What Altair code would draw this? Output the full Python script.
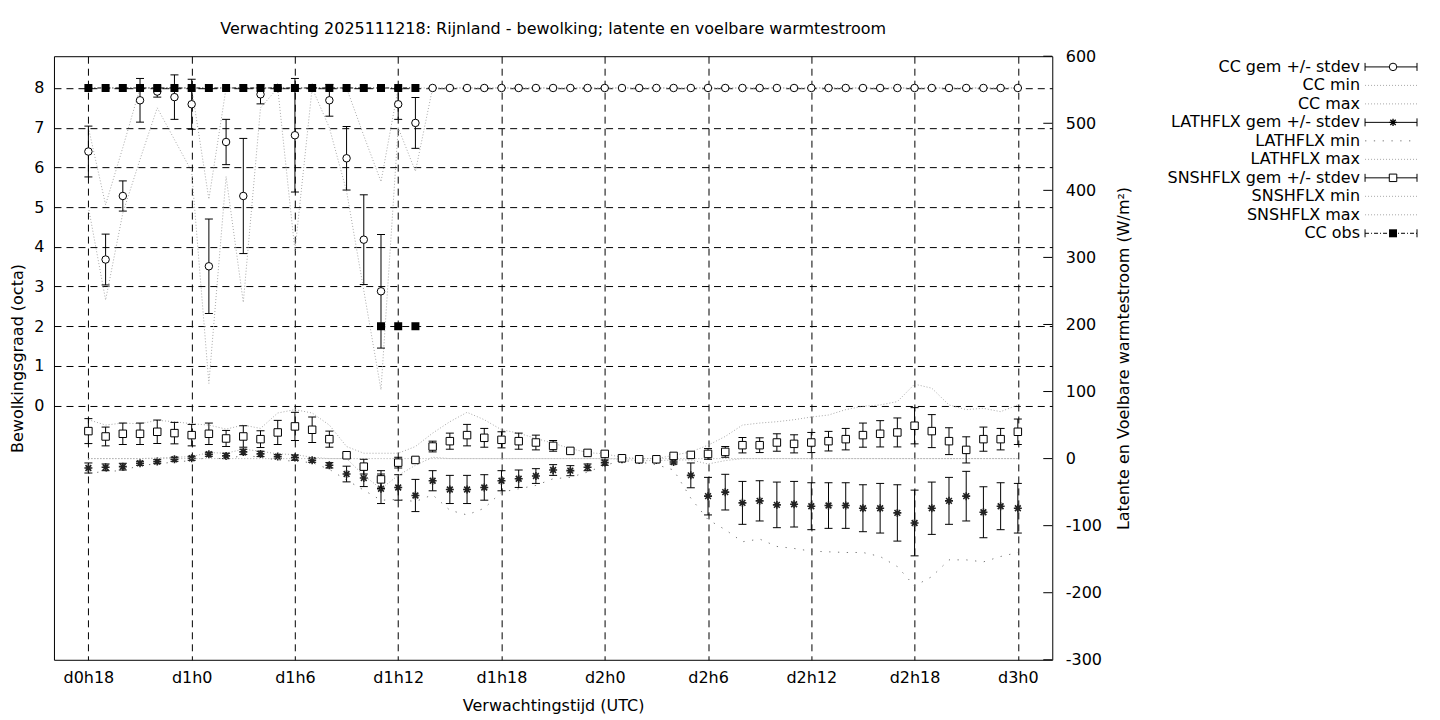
import altair as alt
import pandas as pd

# ---------------- data ----------------
hours = [18, 19, 20, 21, 22, 23, 24, 25, 26, 27,
         28, 29, 30, 31, 32, 33, 34, 35, 36, 37,
         38, 39, 40, 41, 42, 43, 44, 45, 46, 47,
         48, 49, 50, 51, 52, 53, 54, 55, 56, 57,
         58, 59, 60, 61, 62, 63, 64, 65, 66, 67,
         68, 69, 70, 71, 72]

cc_mean = [6.40, 3.68, 5.28, 7.69, 7.91, 7.77, 7.59, 3.51, 6.64, 5.28,
           7.84, 8.00, 6.81, 8.00, 7.69, 6.23, 4.18, 2.88, 7.59, 7.12,
           8, 8, 8, 8, 8, 8, 8, 8, 8, 8,
           8, 8, 8, 8, 8, 8, 8, 8, 8, 8,
           8, 8, 8, 8, 8, 8, 8, 8, 8, 8,
           8, 8, 8, 8, 8]
cc_sd = [0.64, 0.64, 0.38, 0.55, 0.14, 0.56, 0.63, 1.19, 0.57, 1.45,
         0.24, 0.00, 1.43, 0.00, 0.40, 0.80, 1.13, 1.43, 0.38, 0.64,
         0, 0, 0, 0, 0, 0, 0, 0, 0, 0,
         0, 0, 0, 0, 0, 0, 0, 0, 0, 0,
         0, 0, 0, 0, 0, 0, 0, 0, 0, 0,
         0, 0, 0, 0, 0]
cc_min = [5.0, 2.66, 4.85, 6.2, 7.5, 6.7, 5.9, 0.56, 5.77, 2.6,
          7.5, 8.0, 3.9, 8.0, 7.0, 5.4, 2.9, 0.4, 7.0, 5.9,
          8, 8, 8, 8, 8, 8, 8, 8, 8, 8,
          8, 8, 8, 8, 8, 8, 8, 8, 8, 8,
          8, 8, 8, 8, 8, 8, 8, 8, 8, 8,
          8, 8, 8, 8, 8]
cc_max = [7.0, 5.06, 6.5, 8, 8, 8, 8, 5.2, 8, 8,
          8, 8, 8, 8, 8, 8, 6.8, 5.64, 8, 8,
          8, 8, 8, 8, 8, 8, 8, 8, 8, 8,
          8, 8, 8, 8, 8, 8, 8, 8, 8, 8,
          8, 8, 8, 8, 8, 8, 8, 8, 8, 8,
          8, 8, 8, 8, 8]

obs_hours = [18, 19, 20, 21, 22, 23, 24, 25, 26, 27,
             28, 29, 30, 31, 32, 33, 34, 35, 36, 37]
obs_vals = [8, 8, 8, 8, 8, 8, 8, 8, 8, 8,
            8, 8, 8, 8, 8, 8, 8, 8, 8, 8]
obs2_hours = [35, 36, 37]
obs2_vals = [2, 2, 2]

snsh_mean = [41, 33, 37, 37, 40, 38, 35, 37, 30, 33,
             29, 39, 48, 43, 29, 5, -12, -31, -6, -2,
             18, 26, 35, 31, 28, 26, 24, 19, 11.5, 8.5,
             7, 0.5, -1, -1, 4, 5.5, 7, 10, 20, 20,
             24, 22, 24, 26, 29, 35, 37, 39, 49, 41,
             26, 13, 29, 29, 40]
snsh_sd = [18.6, 14, 16, 16, 17.5, 16, 16, 16, 12, 16,
           12.5, 18, 21, 19, 12, 3, 11, 13, 8, 3,
           8, 12, 16, 14, 12, 12, 11, 8, 3, 2,
           2, 1, 1, 1, 2, 3, 8, 8, 11.5, 11,
           13, 13.5, 15, 14.6, 16, 18, 19.6, 21.6, 27, 24.6,
           20, 19.5, 18, 16, 19]
snsh_min = [0, 0, 0, 0, 0, 0, 0, 0, 0, 0,
            0, 0, 0, 0, 0, 0, -25, -45, -25, -10,
            2, 0, 0, 0, 0, 0, 0, 0, 0, 0,
            0, -1, -3, -3, -2, -2, -8, -3, 0, 0,
            0, 0, 0, 0, 0, 0, 0, 0, 0, 0,
            0, 0, 0, 0, 0]
snsh_max = [58, 50, 53, 52, 57, 55, 52, 50, 44, 50,
            45, 68, 73, 68, 50, 18, 8, 8, 8, 18,
            38, 55, 69, 58, 43, 38, 30, 23, 15, 9,
            7, 2, 0, 0, 5, 10, 20, 33, 50, 53,
            55, 58, 62, 65, 73, 78, 80, 85, 111, 105,
            80, 73, 75, 70, 80]

lath_mean = [-14, -13, -12, -7, -4.5, -1, 0.5, 6.5, 4, 10,
             7, 3, 1.5, -2.4, -10, -23, -29, -45, -43, -55,
             -33, -46, -46, -43, -33, -30, -26, -17, -18, -13,
             -6, -1, -2, -2, -5, -25, -56, -50, -66, -63,
             -69, -68, -71, -70, -70, -74, -74, -81, -96, -74,
             -63, -56, -80, -71, -74]
lath_sd = [7.5, 5, 5, 3, 3, 3, 3, 3, 4, 4,
           4, 3, 4, 3, 4, 11.7, 12.7, 22, 19, 24,
           15, 21, 21, 19, 15, 13, 11, 8, 7.5, 5,
           4, 2, 2, 2, 3, 18.5, 28, 26.6, 32, 30,
           34, 34, 35, 34, 34, 35, 37, 42, 49, 39,
           35, 37, 38, 35, 37]
lath_min = [-22, -19, -18, -10, -8, -5, -3, 2, -1, 5,
            2, -2, -4, -6, -16, -32, -47, -62, -61, -64,
            -54, -77, -84, -74, -50, -45, -40, -30, -28, -20,
            -10, -3, -5, -9, -17, -59, -91, -106, -124, -120,
            -131, -134, -138, -139, -140, -140, -146, -161, -190, -176,
            -151, -151, -154, -146, -140]
lath_max = [0, 0, 0, 0, 1, 2, 3, 9, 8, 14,
            11, 7, 6, 2, 0, 0, 0, 0, 0, 0,
            0, 0, 0, 0, 0, 0, 0, 0, 0, 0,
            0, 0, 0, 0, 0, 0, 0, 0, 0, 0,
            0, 0, 0, 0, 0, 0, 0, 0, 0, 0,
            0, 0, 0, 0, 0]

x_ticks = [18, 24, 30, 36, 42, 48, 54, 60, 66, 72]
left_ticks = [0, 1, 2, 3, 4, 5, 6, 7, 8]
right_ticks = [-300, -200, -100, 0, 100, 200, 300, 400, 500, 600]

title_text = "Verwachting 2025111218: Rijnland - bewolking; latente en voelbare warmtestroom"
legend_labels = ["CC gem +/- stdev", "CC min", "CC max",
                 "LATHFLX gem +/- stdev", "LATHFLX min", "LATHFLX max",
                 "SNSHFLX gem +/- stdev", "SNSHFLX min", "SNSHFLX max", "CC obs"]

# ---------------- layout / style ----------------
W, H = 999, 604
FONT = "DejaVu Sans"
FS = 16
GREY = "#a8a8a8"
DENSE = [1, 2]
SPARSE = [1.3, 7.5]
STAR = "M-1,0L1,0M0,-1L0,1M-0.72,-0.72L0.72,0.72M-0.72,0.72L0.72,-0.72"

cc = pd.DataFrame({"h": hours, "mean": cc_mean, "sd": cc_sd, "mn": cc_min, "mx": cc_max})
fx = pd.DataFrame({"h": hours, "sm": snsh_mean, "ss": snsh_sd, "smin": snsh_min, "smax": snsh_max,
                   "lm": lath_mean, "ls": lath_sd, "lmin": lath_min, "lmax": lath_max})
obs = pd.DataFrame({"h": obs_hours, "v": obs_vals})
obs2 = pd.DataFrame({"h": obs2_hours, "v": obs2_vals})
rt = pd.DataFrame({"t": right_ticks})

x_axis = alt.Axis(values=x_ticks,
                  labelExpr="'d' + floor(datum.value / 24) + 'h' + (datum.value % 24)",
                  title="Verwachtingstijd (UTC)", grid=True, gridColor="black",
                  gridDash=[7, 5], gridOpacity=1, gridWidth=1, ticks=False, tickSize=0,
                  domain=False, labelPadding=10, labelFlush=False,
                  titleX=W / 2, titleY=46, titleAnchor="middle", titleBaseline="middle")
X = alt.X("h:Q", scale=alt.Scale(domain=[16, 74], nice=False, zero=False), axis=x_axis)

l_axis = alt.Axis(values=left_ticks, title="Bewolkingsgraad (octa)", grid=True,
                  gridColor="black", gridDash=[7, 5], gridOpacity=1, gridWidth=1,
                  ticks=False, tickSize=0, domain=False, labelPadding=10,
                  titleX=-36, titleY=H / 2, titleAngle=270, titleAnchor="middle",
                  titleBaseline="middle", titleAlign="center")
l_scale = alt.Scale(domain=[-6.4, 8.8], nice=False, zero=False)


def YL(field):
    return alt.Y(f"{field}:Q", scale=l_scale, axis=l_axis)


r_axis = alt.Axis(values=right_ticks, orient="right", labelExpr="'' + datum.value",
                  title="Latente en Voelbare warmtestroom (W/m²)", grid=False,
                  ticks=False, tickSize=0, domain=False, labelPadding=13,
                  labelAlign="left", titleX=71, titleY=H / 2, titleAngle=270,
                  titleAnchor="middle", titleBaseline="middle", titleAlign="center")
r_scale = alt.Scale(domain=[-300, 600], nice=False, zero=False)


def YR(field):
    return alt.Y(f"{field}:Q", scale=r_scale, axis=r_axis)


# ---------------- cloud cover layers (left axis) ----------------
ccb = alt.Chart(cc).transform_calculate(lo="datum.mean - datum.sd", hi="datum.mean + datum.sd")
cc_layers = [
    ccb.mark_line(color=GREY, strokeDash=DENSE, strokeWidth=1).encode(x=X, y=YL("mn")),
    ccb.mark_line(color=GREY, strokeDash=DENSE, strokeWidth=1).encode(x=X, y=YL("mx")),
    ccb.mark_rule(color="black", strokeWidth=1).encode(x=X, y=YL("lo"), y2="hi:Q"),
    ccb.mark_tick(orient="horizontal", size=8, thickness=1, color="black", opacity=1).encode(x=X, y=YL("lo")),
    ccb.mark_tick(orient="horizontal", size=8, thickness=1, color="black", opacity=1).encode(x=X, y=YL("hi")),
    ccb.mark_point(shape="circle", size=56, filled=True, fill="white", stroke="black",
                   strokeWidth=1, opacity=1).encode(x=X, y=YL("mean")),
    alt.Chart(obs).mark_line(color="black", strokeDash=[4, 2, 1, 2], strokeWidth=1).encode(x=X, y=YL("v")),
    alt.Chart(obs).mark_point(shape="square", size=64, filled=True, color="black", opacity=1).encode(x=X, y=YL("v")),
    alt.Chart(obs2).mark_point(shape="square", size=64, filled=True, color="black", opacity=1).encode(x=X, y=YL("v")),
]

# title as text
cc_layers.append(
    alt.Chart(pd.DataFrame({"t": [title_text]})).mark_text(
        font=FONT, fontSize=FS, color="black", align="center", baseline="middle"
    ).encode(x=alt.value(W / 2), y=alt.value(-27), text="t:N")
)

# ---------------- legend ----------------
LX_TEXT, LX0, LX1, LXM = 1307, 1312, 1364, 1340
for i, lab in enumerate(legend_labels):
    ry = 10.7 + 18.5 * i
    one = alt.Chart(pd.DataFrame({"t": [lab]}))
    cc_layers.append(one.mark_text(font=FONT, fontSize=FS, color="black", align="right",
                                   baseline="middle").encode(x=alt.value(LX_TEXT), y=alt.value(ry), text="t:N"))
    if "stdev" in lab or lab == "CC obs":
        dash = [4, 2, 1, 2] if lab == "CC obs" else [1, 0]
        cc_layers.append(one.mark_rule(color="black", strokeWidth=1, strokeDash=dash).encode(
            x=alt.value(LX0), x2=alt.value(LX1), y=alt.value(ry)))
        for xx in (LX0, LX1):
            cc_layers.append(one.mark_rule(color="black", strokeWidth=1).encode(
                x=alt.value(xx), y=alt.value(ry - 4), y2=alt.value(ry + 4)))
        if lab.startswith("CC gem"):
            pt = one.mark_point(shape="circle", size=56, filled=True, fill="white", stroke="black",
                                strokeWidth=1, opacity=1)
        elif lab.startswith("LATHFLX"):
            pt = one.mark_point(shape=STAR, size=56, filled=False, stroke="black", strokeWidth=1.3, opacity=1)
        elif lab.startswith("SNSHFLX"):
            pt = one.mark_point(shape="square", size=56, filled=True, fill="white", stroke="black",
                                strokeWidth=1, opacity=1)
        else:
            pt = one.mark_point(shape="square", size=64, filled=True, color="black", opacity=1)
        cc_layers.append(pt.encode(x=alt.value(LXM), y=alt.value(ry)))
    else:
        if lab == "LATHFLX min":
            col, dash = "#777777", SPARSE
        else:
            col, dash = GREY, DENSE
        cc_layers.append(one.mark_rule(color=col, strokeWidth=1, strokeDash=dash).encode(
            x=alt.value(LX0), x2=alt.value(LX1), y=alt.value(ry)))

groupA = alt.layer(*cc_layers)

# ---------------- flux layers (right axis) ----------------
fxb = alt.Chart(fx).transform_calculate(
    slo="datum.sm - datum.ss", shi="datum.sm + datum.ss",
    llo="datum.lm - datum.ls", lhi="datum.lm + datum.ls")
fx_layers = [
    alt.Chart(rt).mark_rule(color="black", strokeWidth=1).encode(
        x=alt.value(W - 9), x2=alt.value(W), y=YR("t")),
    # LATHFLX
    fxb.mark_line(color="#777777", strokeDash=SPARSE, strokeWidth=1).encode(x=X, y=YR("lmin")),
    fxb.mark_line(color=GREY, strokeDash=DENSE, strokeWidth=1).encode(x=X, y=YR("lmax")),
    fxb.mark_rule(color="black", strokeWidth=1).encode(x=X, y=YR("llo"), y2="lhi:Q"),
    fxb.mark_tick(orient="horizontal", size=8, thickness=1, color="black", opacity=1).encode(x=X, y=YR("llo")),
    fxb.mark_tick(orient="horizontal", size=8, thickness=1, color="black", opacity=1).encode(x=X, y=YR("lhi")),
    fxb.mark_point(shape=STAR, size=64, filled=False, stroke="#222222", strokeWidth=1.6,
                   opacity=1).encode(x=X, y=YR("lm")),
    # SNSHFLX
    fxb.mark_line(color=GREY, strokeDash=DENSE, strokeWidth=1).encode(x=X, y=YR("smin")),
    fxb.mark_line(color=GREY, strokeDash=DENSE, strokeWidth=1).encode(x=X, y=YR("smax")),
    fxb.mark_rule(color="black", strokeWidth=1).encode(x=X, y=YR("slo"), y2="shi:Q"),
    fxb.mark_tick(orient="horizontal", size=8, thickness=1, color="black", opacity=1).encode(x=X, y=YR("slo")),
    fxb.mark_tick(orient="horizontal", size=8, thickness=1, color="black", opacity=1).encode(x=X, y=YR("shi")),
    fxb.mark_point(shape="square", size=56, filled=True, fill="white", stroke="black",
                   strokeWidth=1, opacity=1).encode(x=X, y=YR("sm")),
]
groupB = alt.layer(*fx_layers)

chart = alt.layer(groupA, groupB).resolve_scale(y="independent").properties(
    width=W, height=H,
    autosize=alt.AutoSizeParams(type="none"),
    padding={"left": 46, "top": 48, "right": 380, "bottom": 60},
).configure_view(stroke="black", strokeWidth=1).configure_axis(
    labelFont=FONT, labelFontSize=FS, labelColor="black",
    titleFont=FONT, titleFontSize=FS, titleFontWeight="normal", titleColor="black",
)

chart.save("out.html", embed_options={"renderer": "svg", "actions": False})
